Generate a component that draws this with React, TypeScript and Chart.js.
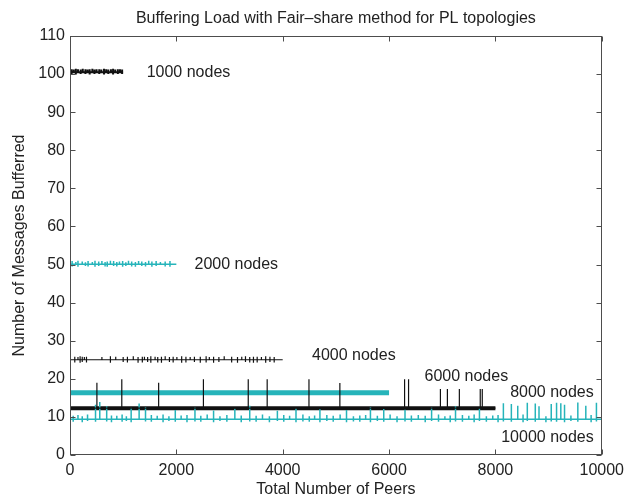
import { useEffect, useRef } from "react";
import { Chart, registerables } from "chart.js";

Chart.register(...registerables);

// ---- data -------------------------------------------------------------
const xTicks = [0, 2000, 4000, 6000, 8000, 10000];
const yTicks = [0, 10, 20, 30, 40, 50, 60, 70, 80, 90, 100, 110];

// Peer range covered by each topology run
const topologySizes = [1000, 2000, 4000, 6000, 8000, 10000];

// Typical buffered-message level of each run
const levels = [100.5, 50.1, 25.0, 16.35, 12.3, 9.4];

// Per-peer deviations from the typical level: peer id, highest and lowest count seen
const hairs1000X = [30, 70, 110, 150, 200, 240, 290, 330, 370, 420, 460, 500, 550, 590, 640, 680, 720, 770, 810, 850, 900, 940, 980];
const hairs1000High = [101.3, 101.2, 101.4, 101.3, 101.2, 101.4, 101.3, 101.2, 101.3, 101.4, 101.2, 101.3, 101.3, 101.2, 101.4, 101.3, 101.2, 101.3, 101.4, 101.2, 101.3, 101.3, 101.2];
const hairs1000Low = [100.0, 100.5, 99.9, 100.5, 100.0, 100.5, 100.0, 100.5, 99.9, 100.5, 100.0, 100.5, 100.0, 100.5, 99.9, 100.5, 100.0, 100.5, 99.9, 100.5, 100.0, 100.5, 100.0];

const hairs2000X = [40, 110, 150, 230, 290, 340, 420, 470, 540, 600, 660, 700, 760, 820, 880, 930, 990, 1050, 1100, 1160, 1230, 1290, 1350, 1420, 1480, 1540, 1620, 1700, 1790, 1880];
const hairs2000High = [50.9, 50.7, 51.0, 50.8, 50.6, 50.9, 50.7, 51.0, 50.8, 50.9, 50.7, 50.8, 51.0, 50.9, 50.7, 50.8, 50.9, 50.6, 51.0, 50.8, 50.7, 50.9, 50.8, 50.7, 51.0, 50.8, 50.9, 50.7, 50.8, 50.9];
const hairs2000Low = [49.5, 50.1, 49.4, 50.1, 49.6, 49.5, 50.1, 49.4, 49.6, 50.1, 49.5, 49.4, 50.1, 49.6, 49.5, 50.1, 49.4, 49.6, 50.1, 49.5, 49.4, 50.1, 49.6, 49.5, 50.1, 49.4, 49.6, 50.1, 49.5, 49.4];

const hairs4000X = [90, 150, 190, 230, 270, 310, 600, 760, 860, 1000, 1080, 1190, 1280, 1360, 1400, 1460, 1520, 1600, 1650, 1720, 1790, 1870, 1940, 2010, 2100, 2180, 2260, 2340, 2450, 2560, 2620, 2700, 2800, 2900, 3040, 3150, 3230, 3300, 3380, 3450, 3520, 3600, 3680, 3760, 3840];
const hairs4000High = [25.8, 25.7, 25.9, 25.8, 25.7, 25.8, 25.7, 25.9, 25.8, 25.7, 25.8, 25.9, 25.7, 25.8, 25.8, 25.7, 25.9, 25.8, 25.7, 25.8, 25.9, 25.7, 25.8, 25.7, 25.9, 25.8, 25.7, 25.8, 25.8, 25.9, 25.7, 25.8, 25.7, 25.9, 25.8, 25.7, 25.8, 25.9, 25.7, 25.8, 25.8, 25.7, 25.9, 25.8, 25.7];
const hairs4000Low = [24.3, 25.0, 24.2, 24.4, 25.0, 24.3, 25.0, 24.2, 25.0, 24.4, 24.3, 25.0, 24.2, 24.3, 25.0, 24.4, 24.2, 25.0, 24.3, 24.2, 25.0, 24.4, 24.3, 25.0, 24.2, 24.3, 25.0, 24.4, 24.2, 24.3, 25.0, 24.2, 24.4, 25.0, 24.3, 24.2, 25.0, 24.4, 24.3, 24.2, 24.3, 25.0, 24.2, 24.4, 24.3];

const hairs8000X = [506, 974, 1667, 2509, 3352, 3708, 4494, 5075, 6292, 6367, 6966, 7097, 7322, 7715, 7753];
const hairs8000High = [19.0, 19.9, 19.0, 19.9, 19.9, 19.9, 19.9, 18.9, 19.9, 19.9, 17.3, 17.3, 17.3, 17.3, 17.3];
const hairs8000Low = [12.3, 12.3, 12.3, 12.3, 12.3, 12.3, 12.3, 12.3, 12.3, 12.3, 12.3, 12.3, 12.3, 12.3, 12.3];

const hairs10000X = [
  60, 150, 230, 330, 480, 560, 690, 780, 880, 980, 1060, 1150, 1300, 1420, 1530, 1640, 1750, 1860,
  1980, 2090, 2200, 2350, 2460, 2580, 2700, 2820, 2950, 3100, 3220, 3380, 3500, 3620, 3750, 3900,
  4020, 4130, 4250, 4380, 4500, 4600, 4700, 4830, 4950, 5080, 5200, 5330, 5450, 5560, 5650, 5780,
  5900, 6020, 6150, 6300, 6420, 6550, 6680, 6800, 6930, 7050, 7150, 7250, 7380, 7500, 7600, 7700,
  7830, 7950, 8050, 8150, 8300, 8420, 8520, 8600, 8750, 8820, 8950, 9050, 9150, 9230, 9300, 9420,
  9550, 9700, 9800, 9900,
];
const hairs10000High = [
  10.3, 10.5, 10.2, 10.6, 13.2, 13.9, 12.8, 10.4, 10.3, 10.6, 10.2, 12.4, 13.5, 12.6, 10.5, 10.3, 10.6, 10.2,
  11.8, 10.4, 10.5, 12.5, 10.3, 10.6, 11.7, 10.2, 10.5, 12.2, 10.4, 12.9, 10.3, 10.6, 10.2, 11.6,
  10.5, 10.3, 12.3, 10.6, 10.2, 10.4, 12.0, 10.5, 10.3, 10.6, 11.8, 10.2, 10.4, 10.5, 12.6, 10.3,
  12.1, 10.6, 10.2, 11.9, 10.4, 10.5, 10.3, 12.5, 10.6, 10.2, 10.4, 12.8, 10.5, 10.3, 10.6, 12.3,
  10.2, 10.4, 10.5, 13.6, 13.4, 12.9, 10.6, 13.7, 13.5, 12.8, 10.2, 13.4, 13.7, 13.6, 13.2, 10.4,
  13.8, 12.9, 10.5, 13.7,
];
const hairs10000Low = [
  8.7, 9.4, 8.6, 8.9, 8.7, 9.4, 8.8, 8.6, 9.4, 8.7, 8.9, 8.6, 9.4, 8.8, 8.7, 9.4, 8.6, 8.9,
  8.7, 9.4, 8.6, 8.8, 8.7, 9.4, 8.6, 8.9, 8.7, 9.4, 8.6, 8.8, 8.7, 9.4, 8.6, 8.9,
  8.7, 9.4, 8.6, 8.8, 8.7, 9.4, 8.6, 8.9, 8.7, 9.4, 8.6, 8.8, 8.7, 9.4, 8.6, 8.9,
  8.7, 9.4, 8.6, 8.8, 8.7, 9.4, 8.6, 8.9, 8.7, 9.4, 8.6, 8.8, 8.7, 9.4, 8.6, 8.9,
  8.7, 9.4, 8.6, 8.8, 8.7, 9.4, 8.6, 8.9, 8.7, 9.4, 8.6, 8.8, 8.7, 9.4, 8.6, 8.9,
  8.7, 9.4, 8.6, 8.8,
];

// Series annotations (anchored at their left edge, vertically centred)
const labelText = ["1000 nodes", "2000 nodes", "4000 nodes", "6000 nodes", "8000 nodes", "10000 nodes"];
const labelX = [1442, 2341, 4551, 6667, 8277, 8109];
const labelY = [100.3, 50.1, 26.2, 20.5, 16.3, 4.5];

// ---- helpers ----------------------------------------------------------
type Pt = { x: number; y: number };

// A flat run at `level` from 0 to `end`, with vertical excursions at the given peers
const hairLine = (end: number, level: number, xs: number[] = [], highs: number[] = [], lows: number[] = []): Pt[] => {
  const pts: Pt[] = [{ x: 0, y: level }];
  xs.forEach((x, i) => {
    pts.push({ x, y: level }, { x, y: highs[i] }, { x, y: lows[i] }, { x, y: level });
  });
  pts.push({ x: end, y: level });
  return pts;
};

const CYAN = "#26b4ba";
const BLACK = "#111111";
const FONT = "'Liberation Sans', Arial, Helvetica, sans-serif";

// Box around the plot with inward ticks on all four sides, plus the series captions
const framePlugin = {
  id: "frame",
  afterDatasetsDraw(chart: any) {
    const { ctx, chartArea, scales } = chart;
    const { left, right, top, bottom } = chartArea;
    const xs = scales.x;
    const ys = scales.y;
    const L = Math.round(left) + 0.5;
    const R = Math.round(right) - 0.5;
    const T = Math.round(top) + 0.5;
    const B = Math.round(bottom) - 0.5;
    const len = 5;
    ctx.save();
    ctx.strokeStyle = "#4d4d4d";
    ctx.lineWidth = 1;
    ctx.strokeRect(L, T, R - L, B - T);
    ctx.beginPath();
    xTicks.forEach((v) => {
      const px = Math.round(xs.getPixelForValue(v)) + 0.5;
      ctx.moveTo(px, B);
      ctx.lineTo(px, B - len);
      ctx.moveTo(px, T);
      ctx.lineTo(px, T + len);
    });
    yTicks.forEach((v) => {
      const py = Math.round(ys.getPixelForValue(v)) + 0.5;
      ctx.moveTo(L, py);
      ctx.lineTo(L + len, py);
      ctx.moveTo(R, py);
      ctx.lineTo(R - len, py);
    });
    ctx.stroke();

    ctx.fillStyle = "#222";
    ctx.font = `16px ${FONT}`;
    ctx.textAlign = "left";
    ctx.textBaseline = "middle";
    labelText.forEach((t, i) => {
      ctx.fillText(t, xs.getPixelForValue(labelX[i]), ys.getPixelForValue(labelY[i]));
    });
    ctx.restore();
  },
};

export default function App() {
  const canvasRef = useRef<HTMLCanvasElement | null>(null);

  useEffect(() => {
    if (!canvasRef.current) return;
    const line = (label: string, data: Pt[], color: string, width: number, order: number) => ({
      label,
      data,
      borderColor: color,
      backgroundColor: color,
      borderWidth: width,
      pointRadius: 0,
      tension: 0,
      fill: false,
      order,
      borderJoinStyle: "bevel" as const,
    });

    const chart = new Chart(canvasRef.current, {
      type: "line",
      data: {
        datasets: [
          line("8000 nodes (peaks)", hairLine(topologySizes[4], levels[4], hairs8000X, hairs8000High, hairs8000Low), BLACK, 1.2, 0),
          line("10000 nodes", hairLine(topologySizes[5], levels[5], hairs10000X, hairs10000High, hairs10000Low), CYAN, 1.5, 1),
          line("8000 nodes", hairLine(topologySizes[4], levels[4]), BLACK, 4, 2),
          line("6000 nodes", hairLine(topologySizes[3], levels[3]), CYAN, 5, 3),
          line("4000 nodes", hairLine(topologySizes[2], levels[2], hairs4000X, hairs4000High, hairs4000Low), BLACK, 1.2, 4),
          line("2000 nodes", hairLine(topologySizes[1], levels[1], hairs2000X, hairs2000High, hairs2000Low), CYAN, 1.5, 5),
          line("1000 nodes", hairLine(topologySizes[0], levels[0], hairs1000X, hairs1000High, hairs1000Low), BLACK, 2, 6),
        ],
      },
      options: {
        animation: false,
        responsive: false,
        parsing: false,
        layout: { padding: { left: 0, right: 26, top: 0, bottom: 0 } },
        plugins: {
          legend: { display: false },
          tooltip: { enabled: false },
          title: {
            display: true,
            text: "Buffering Load with Fair\u2013share method for PL topologies",
            color: "#222",
            fullSize: false,
            font: { family: FONT, size: 16, weight: "normal" },
            padding: { top: 9, bottom: 7.8 },
          },
        },
        scales: {
          x: {
            type: "linear",
            min: 0,
            max: 10000,
            grid: { display: false, drawTicks: false, tickLength: 0 },
            border: { display: false },
            ticks: {
              stepSize: 2000,
              maxRotation: 0,
              autoSkip: false,
              padding: 6,
              color: "#222",
              font: { family: FONT, size: 16 },
              callback: (v: any) => String(v),
            },
            title: {
              display: true,
              text: "Total Number of Peers",
              color: "#222",
              font: { family: FONT, size: 16 },
              padding: { top: 0, bottom: 2.4 },
            },
            afterFit: (scale: any) => {
              scale.height = 47;
            },
          },
          y: {
            type: "linear",
            min: 0,
            max: 110,
            grid: { display: false, drawTicks: false, tickLength: 0 },
            border: { display: false },
            ticks: {
              stepSize: 10,
              autoSkip: false,
              padding: 5,
              color: "#222",
              font: { family: FONT, size: 16 },
              callback: (v: any) => String(v),
            },
            title: {
              display: true,
              text: "Number of Messages Bufferred",
              color: "#222",
              font: { family: FONT, size: 16 },
              padding: { top: 10.4, bottom: 0 },
            },
            afterFit: (scale: any) => {
              scale.width = 70;
            },
          },
        },
      } as any,
      plugins: [framePlugin],
    });
    return () => chart.destroy();
  }, []);

  return (
    <div style={{ position: "fixed", left: 0, top: 0, width: 630, height: 502, background: "#fff" }}>
      <canvas ref={canvasRef} width={630} height={502} style={{ display: "block" }} />
    </div>
  );
}
